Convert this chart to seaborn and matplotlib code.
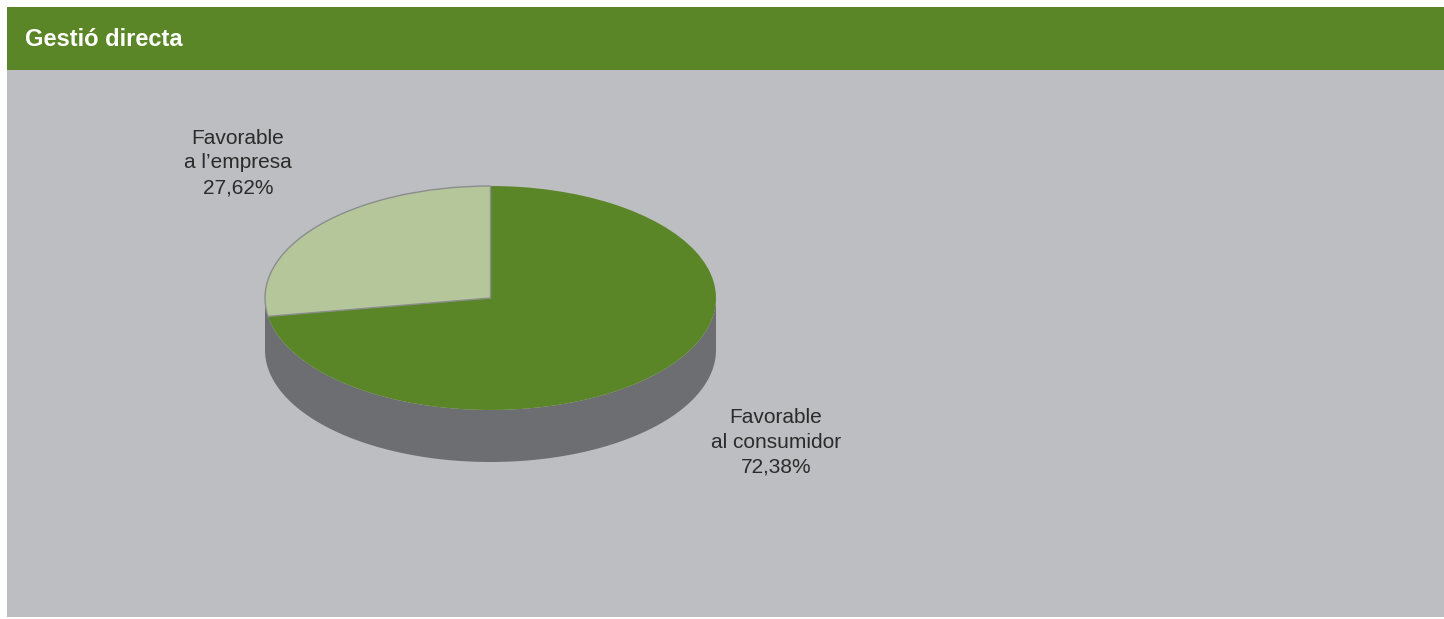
import numpy as np
import matplotlib
matplotlib.use("Agg")
import matplotlib.pyplot as plt
from matplotlib.patches import Rectangle
import seaborn as sns

# Data
categories = ["Favorable\na l’empresa", "Favorable\nal consumidor"]
shares = [27.62, 72.38]
share_labels = ["27,62%", "72,38%"]
title = "Gestió directa"

# Colours
header_green = "#5b8627"
panel_grey = "#bdbec2"
slice_colors = ["#b5c79a", "#5b8627"]
side_grey = "#6d6e72"

sns.set_theme(style="white")
plt.rcParams["font.family"] = ["Liberation Sans", "DejaVu Sans"]

W, H = 1444, 619
fig = plt.figure(figsize=(W / 100, H / 100), dpi=100)
fig.patch.set_facecolor("white")


def fx(px):
    return px / W


def fy(py):
    return 1 - py / H


# Header band and grey panel (kept beneath the pie axes)
fig.patches.append(Rectangle((fx(7), fy(70)), 1 - fx(7), fy(7) - fy(70),
                             transform=fig.transFigure, facecolor=header_green,
                             edgecolor="none", zorder=-5))
fig.patches.append(Rectangle((fx(7), fy(617)), 1 - fx(7), fy(70) - fy(617),
                             transform=fig.transFigure, facecolor=panel_grey,
                             edgecolor="none", zorder=-5))
fig.text(fx(25), fy(39), title, color="white", fontsize=17, fontweight="bold",
         ha="left", va="center")

# Pie axes: top ellipse plus the depth of the disc
left, right, top, bottom = 265, 716, 186, 462
depth = (bottom - top) / ((410 - top) / 2) - 2  # in radius units
ax = fig.add_axes([fx(left), fy(bottom), fx(right) - fx(left), fy(top) - fy(bottom)])
ax.set_zorder(2)
ax.patch.set_visible(False)

# Side wall of the disc (front half)
theta = np.linspace(np.pi, 2 * np.pi, 200)
xs = np.concatenate([np.cos(theta), np.cos(theta[::-1])])
ys = np.concatenate([np.sin(theta), np.sin(theta[::-1]) - depth])
ax.fill(xs, ys, color=side_grey, lw=0, zorder=1)

wedges, _ = ax.pie(shares, startangle=90, counterclock=True, colors=slice_colors,
                   radius=1, wedgeprops=dict(linewidth=0))
wedges[0].set_edgecolor("#8b8c8e")
wedges[0].set_linewidth(1.0)
for w in wedges:
    w.set_zorder(2)
wedges[0].set_zorder(3)

ax.set_aspect("auto")
ax.set_xlim(-1, 1)
ax.set_ylim(-1 - depth, 1)
ax.axis("off")

# Slice labels
label_pos = [(238, 163), (776, 442)]
for cat, lab, (px, py) in zip(categories, share_labels, label_pos):
    fig.text(fx(px), fy(py), f"{cat}\n{lab}", color="#2b2b2b", fontsize=15,
             ha="center", va="center", linespacing=1.38, multialignment="center")

fig.savefig("out.png", dpi=100, facecolor="white")
